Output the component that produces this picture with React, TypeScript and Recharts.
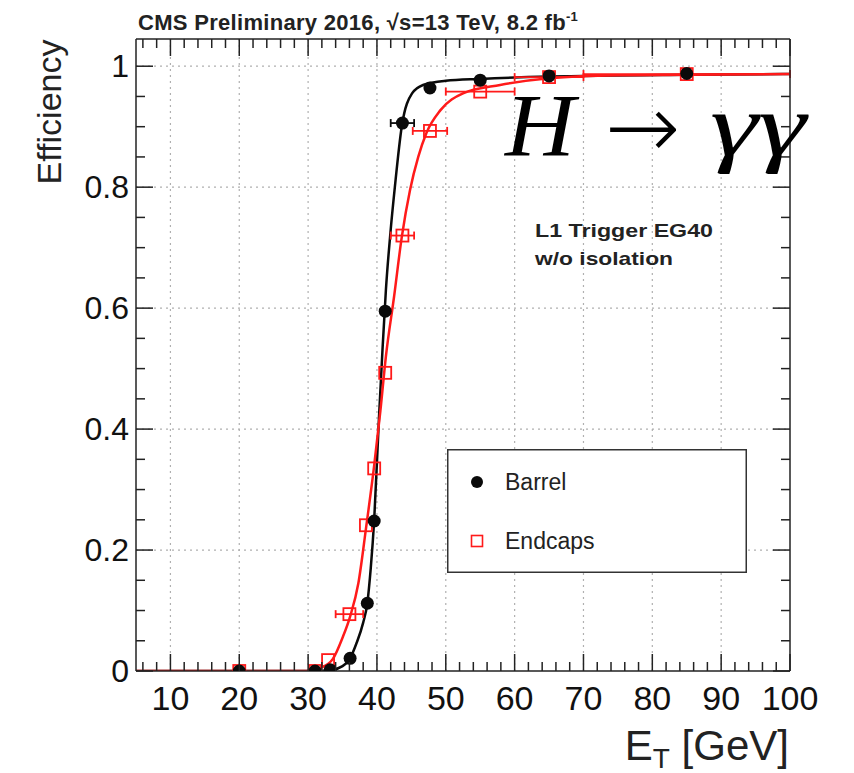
import React from 'react';
import { ComposedChart, XAxis, YAxis, Line, Scatter, ErrorBar, ReferenceLine, Legend } from 'recharts';

// ---- data ----
const barrelPoints = [
  { x: 20, y: 0.0, ex: 0 },
  { x: 31, y: 0.0, ex: 0 },
  { x: 33.2, y: 0.002, ex: 0 },
  { x: 36.1, y: 0.021, ex: 0 },
  { x: 38.6, y: 0.112, ex: 0.6 },
  { x: 39.6, y: 0.248, ex: 0 },
  { x: 41.2, y: 0.595, ex: 0 },
  { x: 43.7, y: 0.906, ex: 1.7 },
  { x: 47.7, y: 0.964, ex: 0 },
  { x: 55, y: 0.977, ex: 0 },
  { x: 65, y: 0.984, ex: 0 },
  { x: 85, y: 0.988, ex: 0 },
];

const endcapPoints = [
  { x: 20, y: 0.0, ex: 0 },
  { x: 31, y: 0.0, ex: 0 },
  { x: 32.9, y: 0.018, ex: 0 },
  { x: 36.0, y: 0.094, ex: 2 },
  { x: 38.4, y: 0.241, ex: 0 },
  { x: 39.6, y: 0.335, ex: 0 },
  { x: 41.2, y: 0.493, ex: 0 },
  { x: 43.7, y: 0.72, ex: 1.7 },
  { x: 47.7, y: 0.893, ex: 2.5 },
  { x: 55, y: 0.958, ex: 5 },
  { x: 65, y: 0.982, ex: 5 },
  { x: 85, y: 0.987, ex: 15 },
];

const barrelFit = [
  { x: 5, y: 0 }, { x: 30, y: 0 }, { x: 33, y: 0.001 }, { x: 35, y: 0.008 },
  { x: 36.1, y: 0.021 }, { x: 37, y: 0.045 }, { x: 38, y: 0.08 }, { x: 38.6, y: 0.112 },
  { x: 39.1, y: 0.17 }, { x: 39.6, y: 0.25 }, { x: 40.3, y: 0.42 }, { x: 40.8, y: 0.53 },
  { x: 41.3, y: 0.63 }, { x: 42, y: 0.73 }, { x: 42.6, y: 0.8 }, { x: 43.6, y: 0.9 },
  { x: 45.1, y: 0.955 }, { x: 46.7, y: 0.969 }, { x: 50, y: 0.976 }, { x: 55, y: 0.979 },
  { x: 65, y: 0.983 }, { x: 85, y: 0.986 }, { x: 100, y: 0.987 },
];

const endcapFit = [
  { x: 5, y: 0 }, { x: 30, y: 0 }, { x: 31.8, y: 0.005 }, { x: 33.6, y: 0.02 },
  { x: 35, y: 0.055 }, { x: 36.1, y: 0.09 }, { x: 37.3, y: 0.145 }, { x: 38.4, y: 0.235 },
  { x: 39.6, y: 0.34 }, { x: 40.5, y: 0.43 }, { x: 41.3, y: 0.52 }, { x: 42.5, y: 0.62 },
  { x: 43.6, y: 0.717 }, { x: 44.8, y: 0.795 }, { x: 46, y: 0.85 }, { x: 47.2, y: 0.89 },
  { x: 49.2, y: 0.927 }, { x: 52.5, y: 0.955 }, { x: 57.9, y: 0.969 }, { x: 65, y: 0.98 },
  { x: 75, y: 0.985 }, { x: 100, y: 0.987 },
];

const xTicks = [6, 8, 10, 12, 14, 16, 18, 20, 22, 24, 26, 28, 30, 32, 34, 36, 38, 40, 42, 44, 46, 48, 50,
  52, 54, 56, 58, 60, 62, 64, 66, 68, 70, 72, 74, 76, 78, 80, 82, 84, 86, 88, 90, 92, 94, 96, 98, 100];
const xMajor = [10, 20, 30, 40, 50, 60, 70, 80, 90, 100];
const xGrid = [10, 20, 30, 40, 50, 60, 70, 80, 90];
const yTicks = [0, 0.05, 0.1, 0.15, 0.2, 0.25, 0.3, 0.35, 0.4, 0.45, 0.5, 0.55, 0.6, 0.65, 0.7, 0.75, 0.8, 0.85, 0.9, 0.95, 1.0];
const yMajor = [0, 0.2, 0.4, 0.6, 0.8, 1.0];
const yGrid = [0.2, 0.4, 0.6, 0.8, 1.0];
const xDomain = [5, 100];
const yDomain = [0, 1.045];

const seriesNames = ['Barrel', 'Endcaps'];

const SANS = "'Liberation Sans', Arial, Helvetica, sans-serif";
const SERIF = "'Liberation Serif', 'DejaVu Serif', serif";
const AX = '#222';
const RED = '#ff1a1a';
const BLK = '#0a0a0a';

const isMajor = (arr: number[], v: number) => arr.some((m) => Math.abs(m - v) < 1e-6);

const BottomTick = (props: any) => {
  const { x, y, payload } = props;
  const v = payload.value;
  const major = isMajor(xMajor, v);
  return (
    <g>
      <line x1={x} x2={x} y1={y} y2={y - (major ? 17 : 9)} stroke={AX} strokeWidth={1.5} />
      {major && (
        <text x={x} y={y + 39} textAnchor="middle" fontSize={34} fontFamily={SANS} fill="#111">{v}</text>
      )}
    </g>
  );
};

const TopTick = (props: any) => {
  const { x, y, payload } = props;
  const major = isMajor(xMajor, payload.value);
  return <line x1={x} x2={x} y1={y} y2={y + (major ? 17 : 9)} stroke={AX} strokeWidth={1.5} />;
};

const LeftTick = (props: any) => {
  const { x, y, payload } = props;
  const v = payload.value;
  const major = isMajor(yMajor, v);
  return (
    <g>
      <line x1={x} x2={x + (major ? 17 : 9)} y1={y} y2={y} stroke={AX} strokeWidth={1.5} />
      {major && (
        <text x={x - 7} y={y + 11} textAnchor="end" fontSize={32} fontFamily={SANS} fill="#111">{String(v)}</text>
      )}
    </g>
  );
};

const RightTick = (props: any) => {
  const { x, y, payload } = props;
  const major = isMajor(yMajor, payload.value);
  return <line x1={x} x2={x - (major ? 17 : 9)} y1={y} y2={y} stroke={AX} strokeWidth={1.5} />;
};

const Dot = (props: any) => {
  const { cx, cy } = props;
  if (cx == null || cy == null) return null;
  return <circle cx={cx} cy={cy} r={6.5} fill={BLK} />;
};

const OpenSquare = (props: any) => {
  const { cx, cy } = props;
  if (cx == null || cy == null) return null;
  return <rect x={cx - 6} y={cy - 6} width={12} height={12} fill="none" stroke={RED} strokeWidth={1.8} />;
};

const LegendBox = (props: any) => {
  const items = (props.payload || []).filter((p: any) => seriesNames.includes(p.value));
  items.sort((a: any, b: any) => seriesNames.indexOf(a.value) - seriesNames.indexOf(b.value));
  return (
    <div style={{ width: 300, height: 124, background: '#fff' }}>
      <svg width={300} height={124}>
        <rect x={0.75} y={0.75} width={298.5} height={122.5} fill="#fff" stroke="#333" strokeWidth={1.5} />
        {items.map((it: any, i: number) => {
          const cy = 33 + i * 59;
          return (
            <g key={it.value}>
              {it.value === 'Barrel' ? (
                <circle cx={30} cy={cy} r={6} fill={BLK} />
              ) : (
                <rect x={24.5} y={cy - 5.5} width={11} height={11} fill="none" stroke={RED} strokeWidth={1.6} />
              )}
              <text x={58} y={cy + 8} fontSize={23} fontFamily={SANS} fill="#222">{it.value}</text>
            </g>
          );
        })}
      </svg>
    </div>
  );
};

export default function App() {
  return (
    <div style={{ position: 'absolute', left: 0, top: 0, width: 854, height: 773, background: '#fff' }}>
      <ComposedChart
        width={854}
        height={773}
        margin={{ top: 0, right: 0, bottom: 0, left: 0 }}
        style={{ position: 'absolute', left: 0, top: 0 }}
      >
        <XAxis
          xAxisId={0}
          dataKey="x"
          type="number"
          domain={xDomain}
          allowDataOverflow
          ticks={xTicks}
          interval={0}
          tickLine={false}
          tickSize={0}
          tickMargin={0}
          height={102}
          axisLine={{ stroke: AX, strokeWidth: 1.5 }}
          tick={<BottomTick />}
        />
        <XAxis
          xAxisId="top"
          orientation="top"
          dataKey="x"
          type="number"
          domain={xDomain}
          allowDataOverflow
          ticks={xTicks}
          interval={0}
          tickLine={false}
          tickSize={0}
          tickMargin={0}
          height={39}
          axisLine={{ stroke: AX, strokeWidth: 1.5 }}
          tick={<TopTick />}
        />
        <YAxis
          yAxisId={0}
          type="number"
          domain={yDomain}
          allowDataOverflow
          ticks={yTicks}
          interval={0}
          tickLine={false}
          tickSize={0}
          tickMargin={0}
          width={136}
          axisLine={{ stroke: AX, strokeWidth: 1.5 }}
          tick={<LeftTick />}
        />
        <YAxis
          yAxisId="right"
          orientation="right"
          type="number"
          domain={yDomain}
          allowDataOverflow
          ticks={yTicks}
          interval={0}
          tickLine={false}
          tickSize={0}
          tickMargin={0}
          width={64}
          axisLine={{ stroke: AX, strokeWidth: 1.5 }}
          tick={<RightTick />}
        />
        {xGrid.map((v) => (
          <ReferenceLine key={'gx' + v} x={v} stroke="#b0b0b0" strokeWidth={1.2} strokeDasharray="2 4" ifOverflow="visible" />
        ))}
        {yGrid.map((v) => (
          <ReferenceLine key={'gy' + v} y={v} stroke="#b0b0b0" strokeWidth={1.2} strokeDasharray="2 4" ifOverflow="visible" />
        ))}
        <Line
          data={barrelFit}
          dataKey="y"
          type="monotone"
          stroke={BLK}
          strokeWidth={2.5}
          dot={false}
          activeDot={false}
          legendType="none"
          isAnimationActive={false}
        />
        <Line
          data={endcapFit}
          dataKey="y"
          type="monotone"
          stroke={RED}
          strokeWidth={2.5}
          dot={false}
          activeDot={false}
          legendType="none"
          isAnimationActive={false}
        />
        <Scatter name="Endcaps" data={endcapPoints} dataKey="y" fill={RED} shape={<OpenSquare />} isAnimationActive={false}>
          <ErrorBar dataKey="ex" direction="x" width={4} stroke={RED} strokeWidth={1.8} />
        </Scatter>
        <Scatter name="Barrel" data={barrelPoints} dataKey="y" fill={BLK} shape={<Dot />} isAnimationActive={false}>
          <ErrorBar dataKey="ex" direction="x" width={4} stroke={BLK} strokeWidth={1.8} />
        </Scatter>
        <Legend
          layout="horizontal"
          verticalAlign="middle"
          align="center"
          content={<LegendBox />}
          wrapperStyle={{ position: 'absolute', left: 447, top: 449, width: 300, height: 124 }}
        />
      </ComposedChart>
      <svg
        width={854}
        height={773}
        style={{ position: 'absolute', left: 0, top: 0, pointerEvents: 'none' }}
      >
        <text x={138} y={30} fontSize={22} fontWeight="bold" fontFamily={SANS} fill="#222" letterSpacing={0.3}>
          CMS Preliminary 2016,  √s=13 TeV, 8.2 fb
          <tspan dy={-9} fontSize={13}>-1</tspan>
        </text>
        <text x={535} y={237} fontSize={19} fontWeight="bold" fontFamily={SANS} fill="#222" textLength={178} lengthAdjust="spacingAndGlyphs">
          L1 Trigger EG40
        </text>
        <text x={535} y={265} fontSize={19} fontWeight="bold" fontFamily={SANS} fill="#222" textLength={138} lengthAdjust="spacingAndGlyphs">
          w/o isolation
        </text>
        <text x={505} y={155} fontSize={88} fontStyle="italic" fontFamily={SERIF} fill="#000" textLength={70} lengthAdjust="spacingAndGlyphs">H</text>
        <text x={605} y={158} fontSize={90} fontFamily="'DejaVu Sans', sans-serif" fontWeight="200" fill="#000">→</text>
        <text x={710} y={155} fontSize={88} fontStyle="italic" fontFamily={SERIF} fill="#000" textLength={96} lengthAdjust="spacingAndGlyphs">γγ</text>
        <text
          x={61}
          y={112}
          fontSize={34}
          fontFamily={SANS}
          fill="#222"
          textAnchor="middle"
          transform="rotate(-90, 61, 112)"
        >
          Efficiency
        </text>
        <text x={789} y={760} fontSize={42} fontFamily={SANS} fill="#222" textAnchor="end">
          E<tspan fontSize={28} dy={8}>T</tspan>
          <tspan dy={-8}> [GeV]</tspan>
        </text>
      </svg>
    </div>
  );
}
